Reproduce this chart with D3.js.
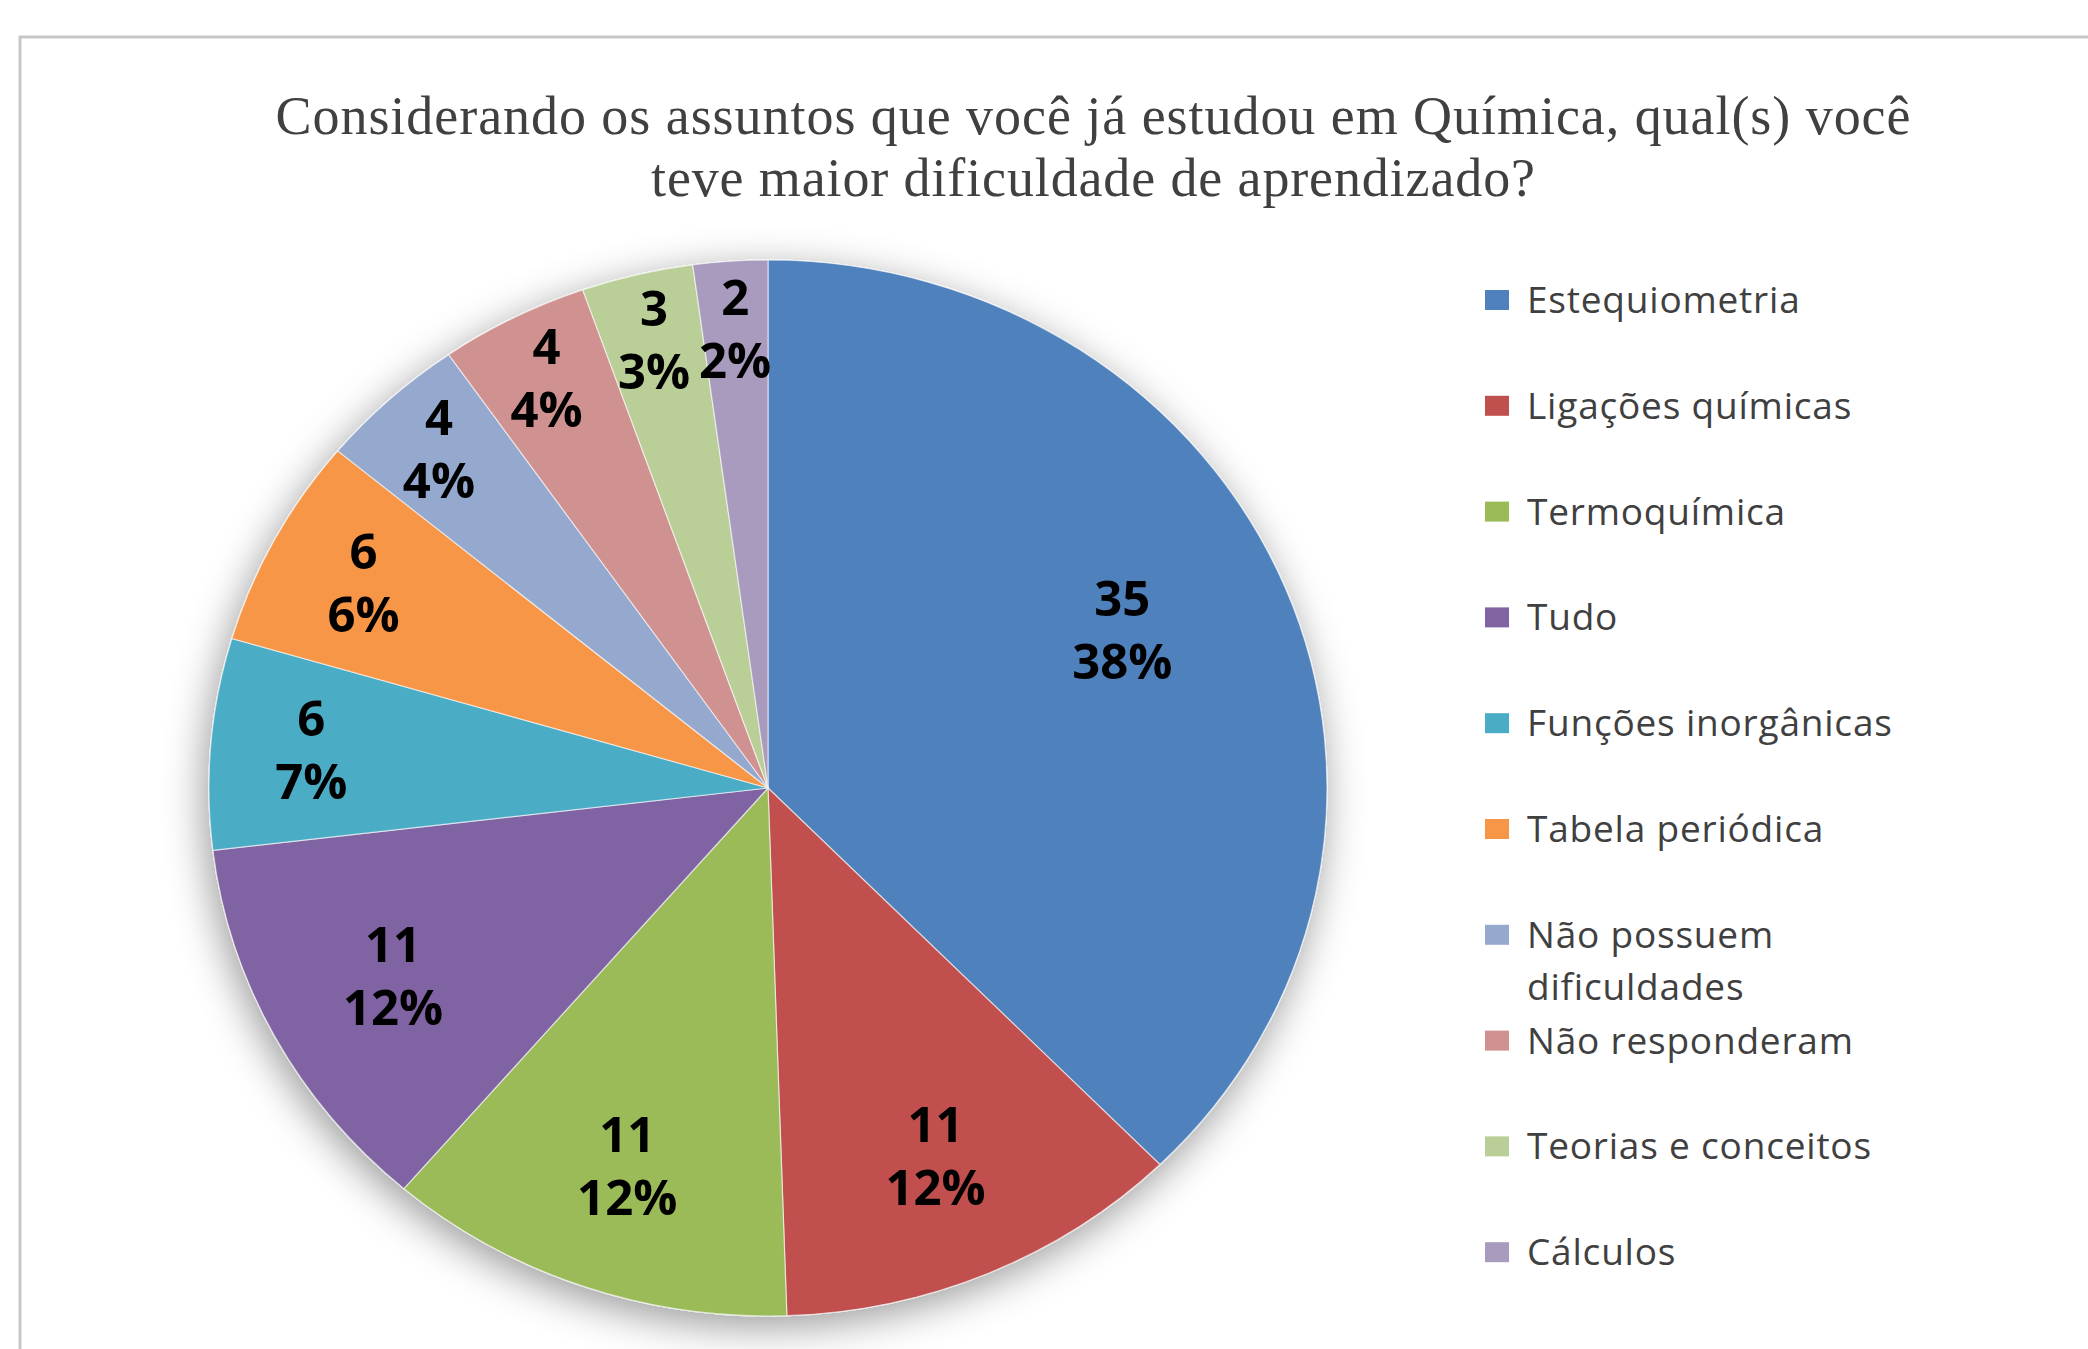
<!DOCTYPE html>
<html>
<head>
<meta charset="utf-8">
<script src="https://cdn.jsdelivr.net/npm/d3@7"></script>
<style>
  body { margin: 0; background: #fff; }
  svg { display: block; }
</style>
</head>
<body>
<div id="chart"></div>
<script>
const titleLines = ['Considerando os assuntos que você já estudou em Química,  qual(s) você', 'teve maior dificuldade de aprendizado?'];
const categories = ['Estequiometria', 'Ligações químicas', 'Termoquímica', 'Tudo', 'Funções inorgânicas',
  'Tabela periódica', 'Não possuem dificuldades', 'Não responderam', 'Teorias e conceitos', 'Cálculos'];
const values = [35, 11, 11, 11, 6, 6, 4, 4, 3, 2];
const pctLabels = ['38%', '12%', '12%', '12%', '7%', '6%', '4%', '4%', '3%', '2%'];
const colors = ['#4f81bd', '#c0504d', '#9bbb59', '#8064a2', '#4bacc6', '#f79646',
  '#95a9cf', '#d09291', '#bacf97', '#a99bbe'];

const draw = () => {
  const W = 2088, H = 1349;
  const svg = d3.select('#chart')
    .append('svg')
    .attr('width', W)
    .attr('height', H);

  // soft shadow under the pie
  const f = svg.append('defs').append('filter')
    .attr('id', 'shadow')
    .attr('x', '-20%').attr('y', '-20%')
    .attr('width', '140%').attr('height', '140%');
  f.append('feDropShadow')
    .attr('dx', -4).attr('dy', 10)
    .attr('stdDeviation', 20)
    .attr('flood-color', '#000')
    .attr('flood-opacity', 0.4);

  // chart area border (continues off canvas)
  svg.append('rect')
    .attr('x', 20).attr('y', 37)
    .attr('width', W + 40).attr('height', H + 40)
    .attr('fill', 'none')
    .attr('stroke', '#c8c8c8')
    .attr('stroke-width', 3);

  // title
  const title = svg.append('text')
    .attr('text-anchor', 'middle')
    .attr('font-family', '"Liberation Serif", "Times New Roman", serif')
    .attr('font-size', 54)
    .attr('fill', '#404040');
  title.selectAll('tspan')
    .data(titleLines)
    .join('tspan')
    .attr('x', 1093)
    .attr('y', (d, i) => 134 + i * 62)
    .attr('textLength', (d, i) => i === 0 ? 1635 : 884)
    .attr('lengthAdjust', 'spacing')
    .text(d => d);

  // pie (elliptical, as in the stretched original)
  const cx = 768, cy = 788, rx = 559, ry = 528, R = 500;
  const pie = d3.pie().sort(null).value(d => d)(values);
  const arc = d3.arc().innerRadius(0).outerRadius(R);

  const outer = svg.append('g')
    .attr('transform', `translate(${cx},${cy})`)
    .attr('filter', 'url(#shadow)');
  const g = outer.append('g')
    .attr('transform', `scale(${rx / R},${ry / R})`);
  g.selectAll('path')
    .data(pie)
    .join('path')
    .attr('d', arc)
    .attr('fill', (d, i) => colors[i])
    .attr('stroke', '#ffffff')
    .attr('stroke-opacity', 0.6)
    .attr('stroke-width', 1.2)
    .attr('vector-effect', 'non-scaling-stroke');

  // data labels
  const labelR = d => d.value > 20 ? 0.7 : d.value > 8 ? 0.76 : d.value > 5 ? 0.82 : 0.87;
  const labelShift = d => d.value > 20 ? -0.05 : 0;
  const labels = svg.append('g')
    .attr('transform', `translate(${cx},${cy})`)
    .attr('font-family', '"Open Sans", sans-serif')
    .attr('font-weight', 700)
    .attr('font-size', 49)
    .attr('fill', '#000')
    .attr('text-anchor', 'middle');
  labels.selectAll('text')
    .data(pie)
    .join('text')
    .each(function(d, i) {
      const a = (d.startAngle + d.endAngle) / 2 + labelShift(d);
      const k = labelR(d);
      const x = Math.sin(a) * rx * k;
      const y = -Math.cos(a) * ry * k;
      const t = d3.select(this);
      t.append('tspan').attr('x', x).attr('y', y - 15).text(d.value);
      t.append('tspan').attr('x', x).attr('y', y + 48).text(pctLabels[i]);
    });

  // legend
  const legend = svg.append('g')
    .attr('font-family', '"Open Sans", sans-serif')
    .attr('font-size', 37)
    .attr('letter-spacing', 0.8)
    .attr('fill', '#404040');
  const item = legend.selectAll('g')
    .data(categories)
    .join('g')
    .attr('transform', (d, i) => `translate(1485, ${300 + i * 105.8})`);
  item.append('rect')
    .attr('x', 0).attr('y', -10)
    .attr('width', 24).attr('height', 20)
    .attr('fill', (d, i) => colors[i]);
  item.append('text')
    .selectAll('tspan')
    .data(d => d === 'Não possuem dificuldades' ? ['Não possuem', 'dificuldades'] : [d])
    .join('tspan')
    .attr('x', 42)
    .attr('y', (d, i) => 13 + i * 52)
    .text(d => d);
};

draw();
</script>
</body>
</html>
